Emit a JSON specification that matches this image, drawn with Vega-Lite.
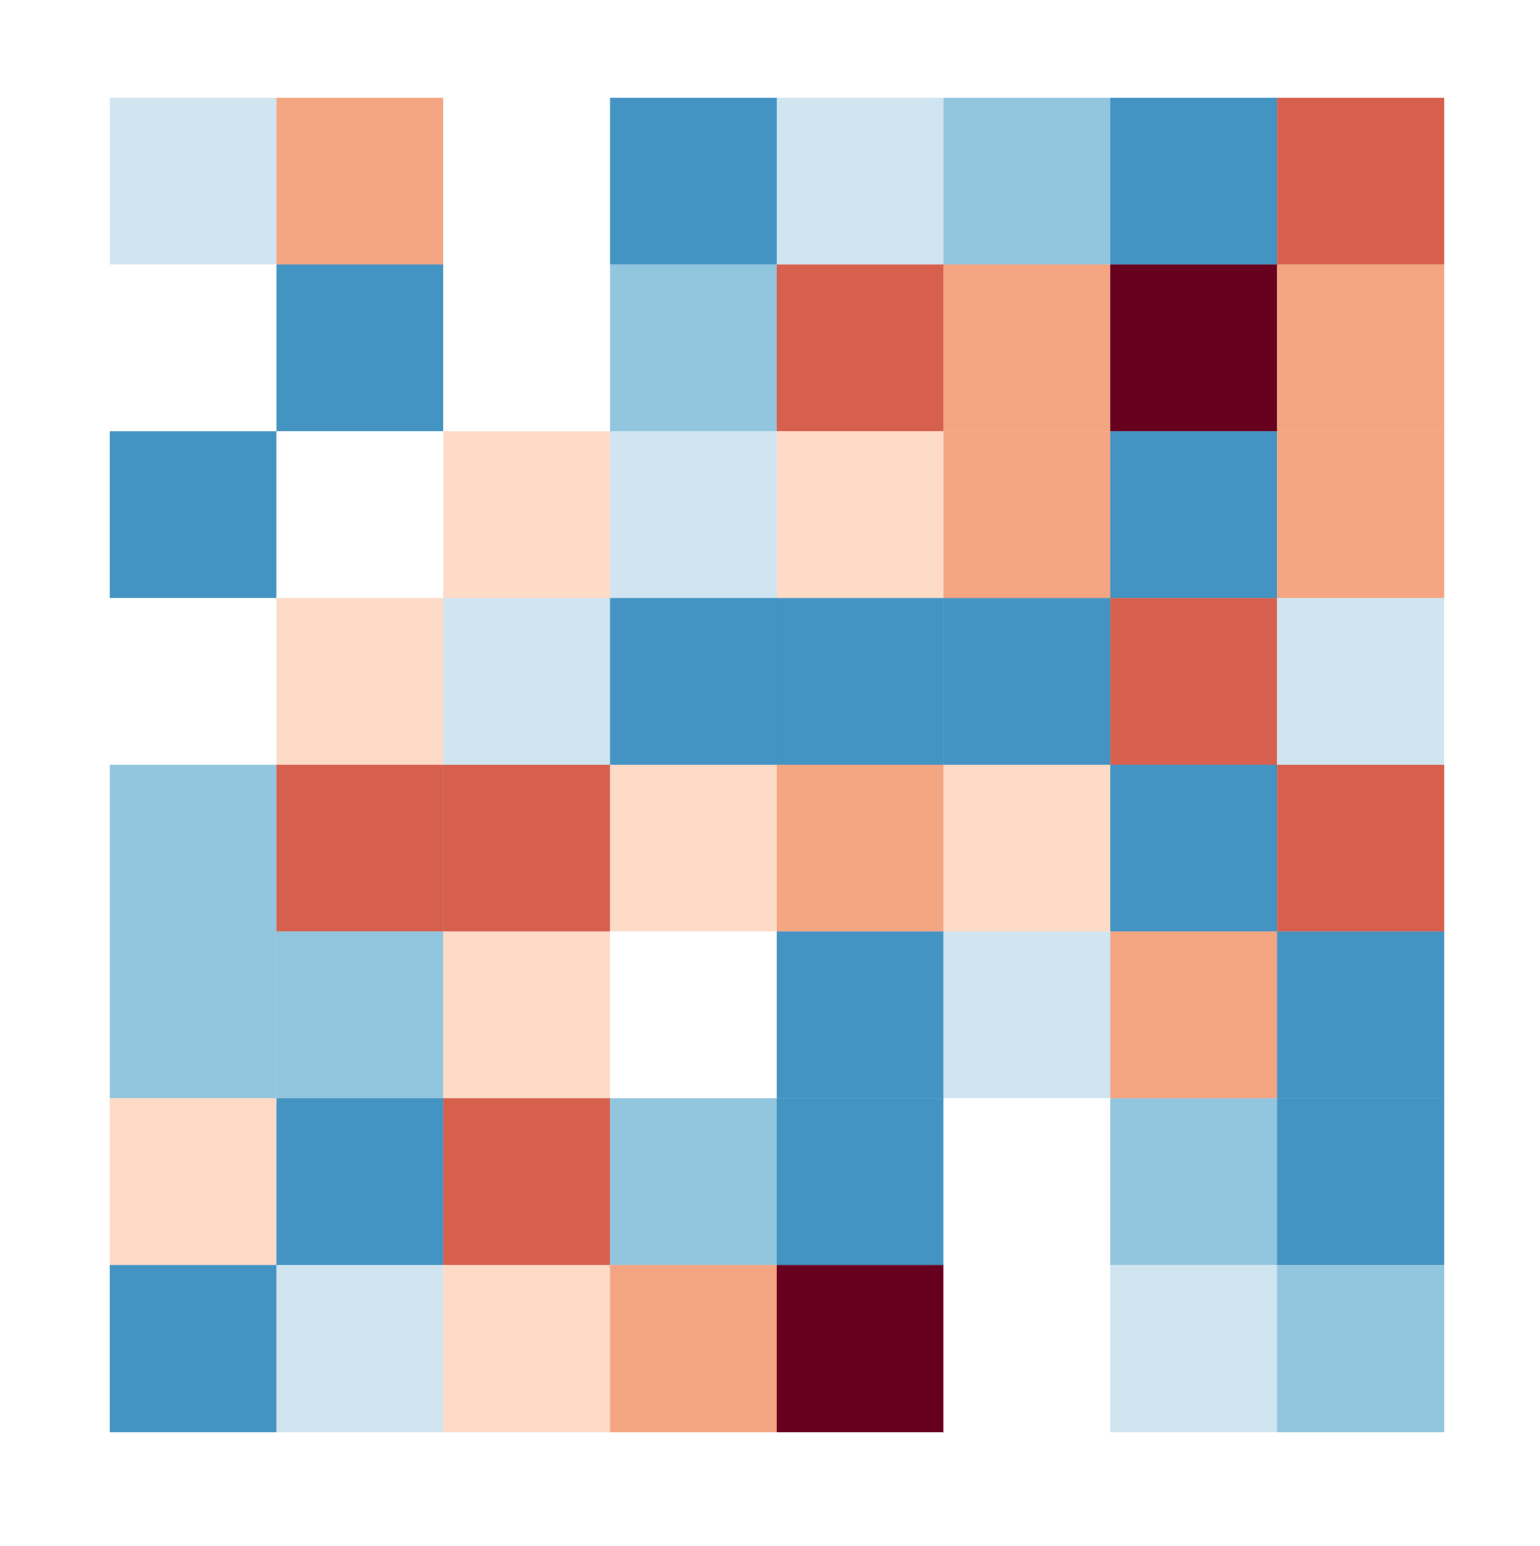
{
  "$schema": "https://vega.github.io/schema/vega-lite/v6.json",
  "width": 1334,
  "height": 1334,
  "autosize": {"type": "none"},
  "padding": {"left": 110, "top": 98, "right": 96, "bottom": 114},
  "background": "white",
  "config": {"view": {"stroke": null}},
  "data": {"values": [
    {"r":0,"c":0,"v":-1},{"r":0,"c":1,"v":2},{"r":0,"c":2,"v":0},{"r":0,"c":3,"v":-3},{"r":0,"c":4,"v":-1},{"r":0,"c":5,"v":-2},{"r":0,"c":6,"v":-3},{"r":0,"c":7,"v":3},
    {"r":1,"c":0,"v":0},{"r":1,"c":1,"v":-3},{"r":1,"c":2,"v":0},{"r":1,"c":3,"v":-2},{"r":1,"c":4,"v":3},{"r":1,"c":5,"v":2},{"r":1,"c":6,"v":5},{"r":1,"c":7,"v":2},
    {"r":2,"c":0,"v":-3},{"r":2,"c":1,"v":0},{"r":2,"c":2,"v":1},{"r":2,"c":3,"v":-1},{"r":2,"c":4,"v":1},{"r":2,"c":5,"v":2},{"r":2,"c":6,"v":-3},{"r":2,"c":7,"v":2},
    {"r":3,"c":0,"v":0},{"r":3,"c":1,"v":1},{"r":3,"c":2,"v":-1},{"r":3,"c":3,"v":-3},{"r":3,"c":4,"v":-3},{"r":3,"c":5,"v":-3},{"r":3,"c":6,"v":3},{"r":3,"c":7,"v":-1},
    {"r":4,"c":0,"v":-2},{"r":4,"c":1,"v":3},{"r":4,"c":2,"v":3},{"r":4,"c":3,"v":1},{"r":4,"c":4,"v":2},{"r":4,"c":5,"v":1},{"r":4,"c":6,"v":-3},{"r":4,"c":7,"v":3},
    {"r":5,"c":0,"v":-2},{"r":5,"c":1,"v":-2},{"r":5,"c":2,"v":1},{"r":5,"c":3,"v":0},{"r":5,"c":4,"v":-3},{"r":5,"c":5,"v":-1},{"r":5,"c":6,"v":2},{"r":5,"c":7,"v":-3},
    {"r":6,"c":0,"v":1},{"r":6,"c":1,"v":-3},{"r":6,"c":2,"v":3},{"r":6,"c":3,"v":-2},{"r":6,"c":4,"v":-3},{"r":6,"c":5,"v":0},{"r":6,"c":6,"v":-2},{"r":6,"c":7,"v":-3},
    {"r":7,"c":0,"v":-3},{"r":7,"c":1,"v":-1},{"r":7,"c":2,"v":1},{"r":7,"c":3,"v":2},{"r":7,"c":4,"v":5},{"r":7,"c":5,"v":0},{"r":7,"c":6,"v":-1},{"r":7,"c":7,"v":-2}
  ]},
  "mark": {"type": "rect", "strokeWidth": 0.5},
  "encoding": {
    "x": {"field": "c", "type": "ordinal", "axis": null, "scale": {"paddingInner": 0, "paddingOuter": 0}},
    "y": {"field": "r", "type": "ordinal", "axis": null, "scale": {"paddingInner": 0, "paddingOuter": 0}},
    "color": {"field": "v", "type": "ordinal", "legend": null,
      "scale": {"domain": [-3,-2,-1,0,1,2,3,5], "range": ["#4393c3","#92c5de","#d1e5f0","#ffffff","#fddbc7","#f4a582","#d6604d","#67001f"]}},
    "stroke": {"field": "v", "type": "ordinal", "legend": null,
      "scale": {"domain": [-3,-2,-1,0,1,2,3,5], "range": ["#4393c3","#92c5de","#d1e5f0","#ffffff","#fddbc7","#f4a582","#d6604d","#67001f"]}}
  }
}
